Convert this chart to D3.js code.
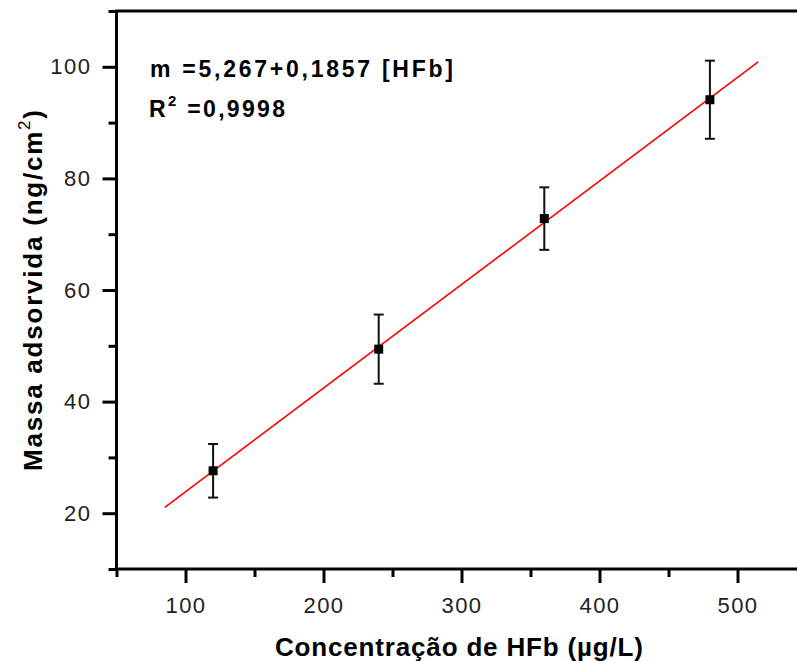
<!DOCTYPE html>
<html>
<head>
<meta charset="utf-8">
<script src="https://cdn.jsdelivr.net/npm/d3@7"></script>
<style>
    html, body { margin: 0; padding: 0; background: #fff; }
    svg { display: block; }
</style>
</head>
<body>
<svg id="chart"></svg>
<script>
// Data.
const concentrations = [120, 240, 360, 480];
const massValues = [27.6, 49.4, 72.8, 94.1];
const massErrors = [4.8, 6.2, 5.6, 7.0];

// Fitted line m = 5,267 + 0,1857 [HFb], drawn between these ends.
const fitX = [85, 515];
const fitY = [21.05, 100.9];

const xTicks = [100, 200, 300, 400, 500];
const xMinorTicks = [50, 150, 250, 350, 450, 550];
const yTicks = [20, 40, 60, 80, 100];
const yMinorTicks = [10, 30, 50, 70, 90, 110];

const width = 797;
const height = 661;

const svg = d3.select('#chart').attr('width', width).attr('height', height);

const x = d3.scaleLinear().domain([50, 550]).range([116.5, 806.5]);
const y = d3.scaleLinear().domain([10, 110]).range([569, 11]);

const labelFont = '"Liberation Sans", Arial, sans-serif';

// Axes with major (long) and minor (short) ticks pointing out.
function drawAxis(axis, g) {
    g.call(axis);
    g.select('.domain').remove();
    g.selectAll('line').style('stroke', '#000').style('stroke-width', '3px');
}

const xAxisG = svg.append('g').attr('transform', `translate(0, ${y(10)})`);
drawAxis(d3.axisBottom(x).tickValues(xMinorTicks).tickSize(8).tickFormat(''), xAxisG.append('g'));
drawAxis(d3.axisBottom(x).tickValues(xTicks).tickSize(14).tickPadding(14).tickFormat(d3.format('d')), xAxisG.append('g'));

const yAxisG = svg.append('g').attr('transform', `translate(${x(50)}, 0)`);
drawAxis(d3.axisLeft(y).tickValues(yMinorTicks).tickSize(8).tickFormat(''), yAxisG.append('g'));
drawAxis(d3.axisLeft(y).tickValues(yTicks).tickSize(14).tickPadding(11).tickFormat(d3.format('d')), yAxisG.append('g'));

svg.selectAll('.tick text')
    .attr('font-family', labelFont)
    .attr('font-size', '22px')
    .attr('letter-spacing', '1.5px')
    .attr('fill', '#222');

// Frame (the right side lies outside the picture).
svg.append('rect')
    .attr('x', x(50))
    .attr('y', y(110))
    .attr('width', x(550) - x(50))
    .attr('height', y(10) - y(110))
    .attr('fill', 'none')
    .attr('stroke', '#000')
    .attr('stroke-width', 3);

// Fit line.
const line = d3.line().x(d => x(d[0])).y(d => y(d[1]));
svg.append('path')
    .datum(d3.zip(fitX, fitY))
    .attr('d', line)
    .attr('fill', 'none')
    .attr('stroke', '#ff0000')
    .attr('stroke-width', 1.6);

// Error bars and markers.
const points = concentrations.map((c, i) => ({ c, m: massValues[i], e: massErrors[i] }));
const capHalf = 5;

const bars = svg.append('g').attr('stroke', '#111').attr('stroke-width', 2);
bars.selectAll('.err')
    .data(points)
    .enter()
    .append('line')
    .attr('x1', d => x(d.c))
    .attr('x2', d => x(d.c))
    .attr('y1', d => y(d.m - d.e))
    .attr('y2', d => y(d.m + d.e));
bars.selectAll('.capTop')
    .data(points)
    .enter()
    .append('line')
    .attr('x1', d => x(d.c) - capHalf)
    .attr('x2', d => x(d.c) + capHalf)
    .attr('y1', d => y(d.m + d.e))
    .attr('y2', d => y(d.m + d.e));
bars.selectAll('.capBottom')
    .data(points)
    .enter()
    .append('line')
    .attr('x1', d => x(d.c) - capHalf)
    .attr('x2', d => x(d.c) + capHalf)
    .attr('y1', d => y(d.m - d.e))
    .attr('y2', d => y(d.m - d.e));

svg.append('g')
    .selectAll('rect')
    .data(points)
    .enter()
    .append('rect')
    .attr('x', d => x(d.c) - 4.5)
    .attr('y', d => y(d.m) - 4.5)
    .attr('width', 9)
    .attr('height', 9)
    .attr('fill', '#000');

// Equation annotation.
svg.append('text')
    .attr('x', 150)
    .attr('y', 77)
    .attr('font-family', labelFont)
    .attr('font-weight', 'bold')
    .attr('font-size', '23px')
    .attr('textLength', 303)
    .attr('lengthAdjust', 'spacing')
    .text('m =5,267+0,1857 [HFb]');

const r2 = svg.append('text')
    .attr('x', 149)
    .attr('y', 117)
    .attr('font-family', labelFont)
    .attr('font-weight', 'bold')
    .attr('font-size', '23px')
    .attr('textLength', 136)
    .attr('lengthAdjust', 'spacing');
r2.append('tspan').text('R');
r2.append('tspan').attr('dy', -11).attr('font-size', '15px').text('2');
r2.append('tspan').attr('dy', 11).text(' =0,9998');

// Axis titles.
svg.append('text')
    .attr('x', 275)
    .attr('y', 656)
    .attr('font-family', labelFont)
    .attr('font-weight', 'bold')
    .attr('font-size', '26px')
    .attr('textLength', 368)
    .attr('lengthAdjust', 'spacing')
    .text('Concentração de HFb (µg/L)');

const yTitle = svg.append('text')
    .attr('transform', 'translate(42, 471) rotate(-90)')
    .attr('font-family', labelFont)
    .attr('font-weight', 'bold')
    .attr('font-size', '26px')
    .attr('textLength', 361)
    .attr('lengthAdjust', 'spacing');
yTitle.append('tspan').text('Massa adsorvida (ng/cm');
yTitle.append('tspan').attr('dy', -12).attr('font-size', '17px').attr('font-weight', 'normal').text('2');
yTitle.append('tspan').attr('dy', 12).text(')');
</script>
</body>
</html>
